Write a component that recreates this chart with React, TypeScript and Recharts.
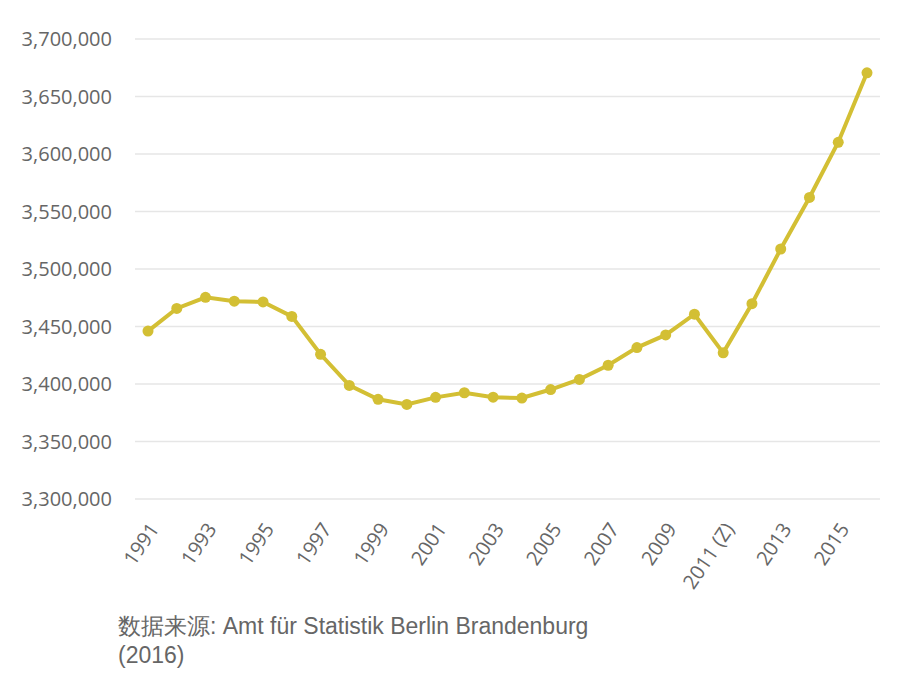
import { LineChart, Line, XAxis, YAxis, CartesianGrid } from 'recharts'

const YEARS = [
  '1991', '1992', '1993', '1994', '1995', '1996', '1997', '1998', '1999', '2000',
  '2001', '2002', '2003', '2004', '2005', '2006', '2007', '2008', '2009', '2010',
  '2011 (Z)', '2012', '2013', '2014', '2015', '2016',
]

const POPULATION = [
  3446000, 3465700, 3475400, 3472000, 3471400, 3458800, 3425800, 3398800, 3386700, 3382200,
  3388400, 3392400, 3388500, 3387800, 3395200, 3404000, 3416300, 3431700, 3442700, 3460700,
  3427100, 3469800, 3517400, 3562200, 3610200, 3670600,
]

const Y_TICKS = [3300000, 3350000, 3400000, 3450000, 3500000, 3550000, 3600000, 3650000, 3700000]

const LINE_COLOR = '#d3bf34'
const TEXT_COLOR = '#666'
const FONT = '"Open Sans", "Noto Sans", sans-serif'

const data = YEARS.map((year, i) => ({ year, value: POPULATION[i] }))

function YearTick({ x, y, payload }: any) {
  return (
    <g transform={`translate(${x + 6},${y + 24})`}>
      <text
        textAnchor="end"
        transform="rotate(-56)"
        dy="0.35em"
        fill={TEXT_COLOR}
        fontSize={20}
        fontFamily={FONT}
      >
        {payload.value}
      </text>
    </g>
  )
}

export default function App() {
  return (
    <div style={{ position: 'absolute', left: 0, top: 0, width: 900, height: 690, background: '#fff' }}>
      <LineChart
        width={900}
        height={610}
        data={data}
        margin={{ top: 39, right: 20, bottom: 0, left: 0 }}
      >
        <CartesianGrid vertical={false} stroke="#e6e6e6" strokeWidth={1.5} />
        <XAxis
          dataKey="year"
          interval={1}
          axisLine={false}
          tickLine={false}
          tickSize={0}
          height={111}
          padding={{ left: 13, right: 13 }}
          tick={<YearTick />}
        />
        <YAxis
          domain={[3300000, 3700000]}
          ticks={Y_TICKS}
          axisLine={false}
          tickLine={false}
          tickSize={0}
          tickMargin={23}
          width={135}
          tick={{ fill: TEXT_COLOR, fontSize: 20, fontFamily: FONT }}
          tickFormatter={(v: number) => v.toLocaleString('en-US')}
        />
        <Line
          type="linear"
          dataKey="value"
          stroke={LINE_COLOR}
          strokeWidth={4}
          dot={{ r: 5.5, fill: LINE_COLOR, stroke: 'none' }}
          isAnimationActive={false}
        />
      </LineChart>
      <div
        style={{
          position: 'absolute',
          left: 118,
          top: 612,
          fontFamily: '"Liberation Sans", Arial, sans-serif',
          fontSize: 23,
          lineHeight: '29px',
          color: TEXT_COLOR,
        }}
      >
        数据来源: Amt für Statistik Berlin Brandenburg
        <br />
        (2016)
      </div>
    </div>
  )
}
